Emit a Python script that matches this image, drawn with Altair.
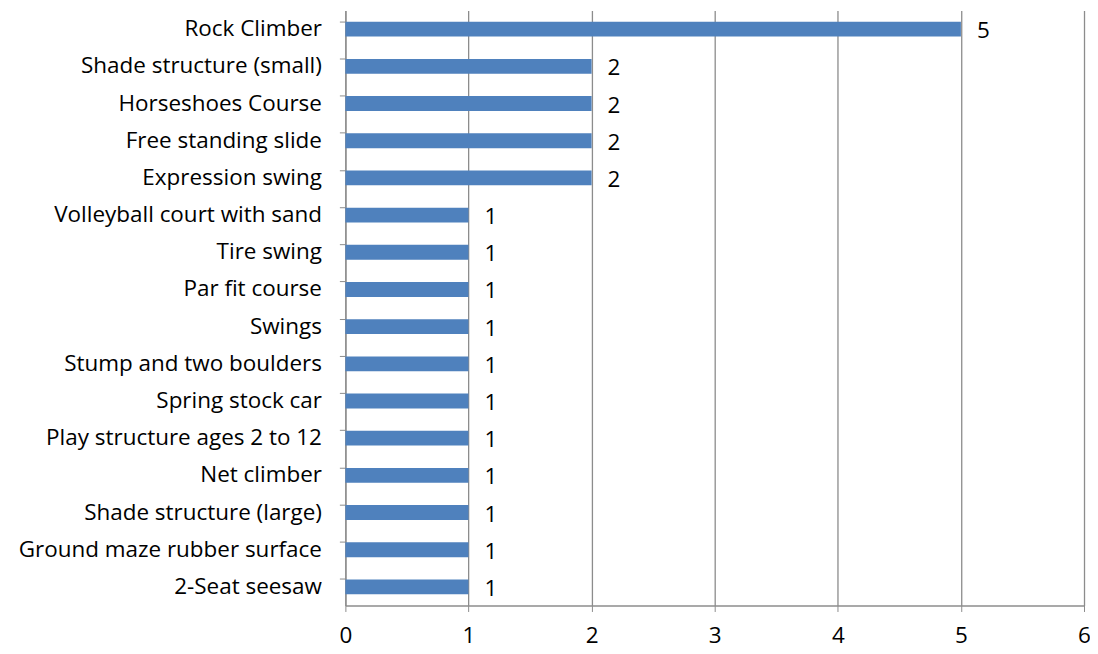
import altair as alt
import pandas as pd

categories = [
    "Rock Climber",
    "Shade structure (small)",
    "Horseshoes Course",
    "Free standing slide",
    "Expression swing",
    "Volleyball court with sand",
    "Tire swing",
    "Par fit course",
    "Swings",
    "Stump and two boulders",
    "Spring stock car",
    "Play structure ages 2 to 12",
    "Net climber",
    "Shade structure (large)",
    "Ground maze rubber surface",
    "2-Seat seesaw",
]
values = [5, 2, 2, 2, 2, 1, 1, 1, 1, 1, 1, 1, 1, 1, 1, 1]

df = pd.DataFrame({"item": categories, "count": values})

FONT = "Open Sans"
FS = 22.5
GRAY = "#8c8c8c"

x_enc = alt.X(
    "count:Q",
    scale=alt.Scale(domain=[0, 6], nice=False),
    axis=alt.Axis(
        values=[0, 1, 2, 3, 4, 5, 6],
        format="d",
        title=None,
        grid=True,
        gridColor=GRAY,
        gridWidth=1.3,
        domainColor=GRAY,
        domainWidth=1.3,
        tickColor=GRAY,
        tickSize=6,
        labelFontSize=FS,
        labelFont=FONT,
        labelColor="#000000",
        labelPadding=13,
        labelFlush=False,
    ),
)
y_enc = alt.Y(
    "item:N",
    sort=categories,
    scale=alt.Scale(paddingInner=0.6, paddingOuter=0.3),
    axis=alt.Axis(
        title=None,
        grid=False,
        bandPosition=0,
        domainColor=GRAY,
        domainWidth=1.3,
        tickColor=GRAY,
        tickSize=6,
        labelFontSize=FS,
        labelFont=FONT,
        labelColor="#000000",
        labelPadding=18,
        labelLimit=400,
    ),
)

bars = alt.Chart(df).mark_bar(color="#4F81BD").encode(x=x_enc, y=y_enc)
labels = alt.Chart(df).mark_text(
    align="left", baseline="middle", dx=16, dy=2, fontSize=FS, font=FONT, color="#000000"
).encode(x=alt.X("count:Q"), y=alt.Y("item:N", sort=categories), text="count:Q")

chart = (
    alt.layer(bars, labels)
    .properties(
        width=740,
        height=596,
        autosize=alt.AutoSizeParams(type="none"),
        padding={"left": 338, "top": 2, "right": 6, "bottom": 46},
    )
    .configure_view(stroke=None)
)

chart.save("out.html", embed_options={"renderer": "svg", "actions": False})
